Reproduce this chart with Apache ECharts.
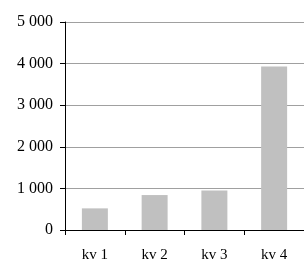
<!DOCTYPE html>
<html lang="sv">
  <head>
    <meta charset="UTF-8" />
    <title>kvartal</title>
    <style>
      html, body { margin: 0; padding: 0; background: #fff; }
      #main { width: 304px; height: 263px; }
    </style>
  </head>
  <body>
    <div id="main"></div>
    <script src="https://cdn.jsdelivr.net/npm/echarts@6/dist/echarts.min.js"></script>
    <script>
      var quarters = ['kv 1', 'kv 2', 'kv 3', 'kv 4'];
      var values = [520, 840, 950, 3930];

      var myChart = echarts.init(document.getElementById('main'));
      var option = {
        animation: false,
        grid: { left: 65, top: 22, width: 244, bottom: 31 },
        xAxis: {
          type: 'category',
          data: quarters,
          axisLine: { lineStyle: { color: '#000', width: 1 } },
          axisTick: { show: true, length: 5, lineStyle: { color: '#000' } },
          axisLabel: {
            margin: 18,
            color: '#000',
            fontFamily: 'Liberation Serif',
            fontSize: 15
          }
        },
        yAxis: {
          type: 'value',
          min: 0,
          max: 5000,
          interval: 1000,
          axisLine: { show: true, lineStyle: { color: '#000', width: 1 } },
          axisTick: { show: true, length: 5, lineStyle: { color: '#000' } },
          splitLine: { lineStyle: { color: '#a0a0a0', width: 1 } },
          axisLabel: {
            margin: 12,
            color: '#000',
            fontFamily: 'Liberation Serif',
            fontSize: 16,
            formatter: function (v) {
              return String(v).replace(/\B(?=(\d{3})+$)/g, ' ');
            }
          }
        },
        series: [
          {
            type: 'bar',
            data: values,
            barWidth: 26,
            itemStyle: { color: '#c0c0c0' }
          }
        ]
      };
      myChart.setOption(option);
    </script>
  </body>
</html>
